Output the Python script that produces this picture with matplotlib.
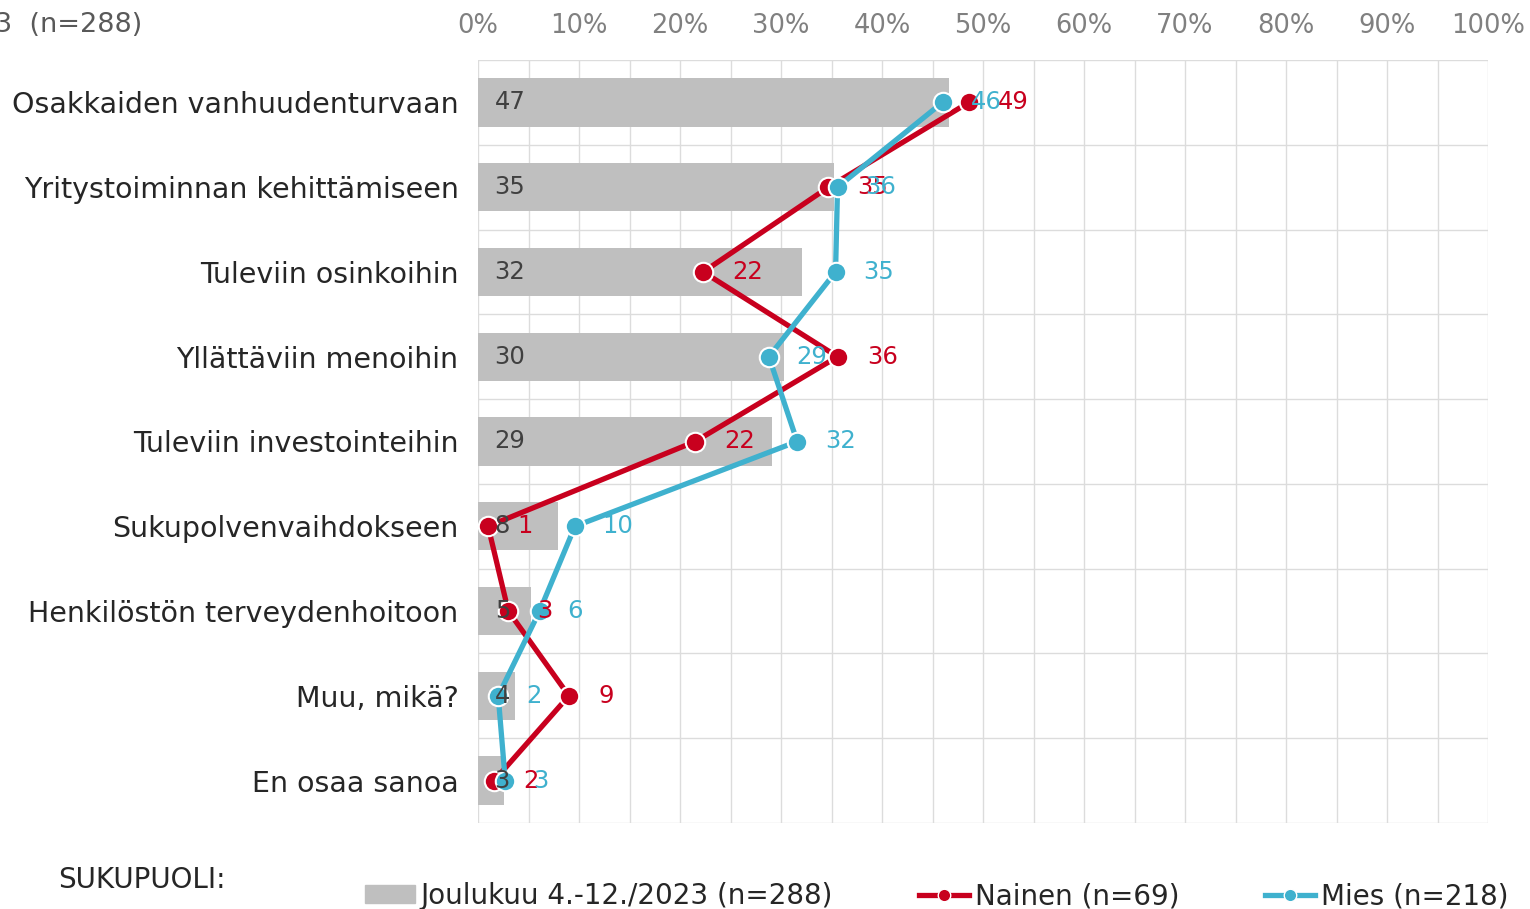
import matplotlib.pyplot as plt
from matplotlib.lines import Line2D
from matplotlib.patches import Patch

plt.rcParams['font.family'] = ['DejaVu Sans']

categories = ['Osakkaiden vanhuudenturvaan', 'Yritystoiminnan kehittämiseen', 'Tuleviin osinkoihin',
              'Yllättäviin menoihin', 'Tuleviin investointeihin', 'Sukupolvenvaihdokseen',
              'Henkilöstön terveydenhoitoon', 'Muu, mikä?', 'En osaa sanoa']
total = [46.6, 35.2, 32.1, 30.3, 29.1, 7.9, 5.2, 3.7, 2.6]
nainen = [48.6, 34.7, 22.3, 35.6, 21.5, 1.0, 3.0, 9.0, 1.6]
mies = [46.0, 35.6, 35.4, 28.8, 31.6, 9.6, 6.1, 2.0, 2.7]
total_label = 'Joulukuu 4.-12./2023 (n=288)'
nainen_label = 'Nainen (n=69)'
mies_label = 'Mies (n=218)'

GRAY = '#BFBFBF'
RED = '#C8001E'
BLUE = '#3FB1CE'

fig = plt.figure(figsize=(15.3, 9.09), dpi=100)
ax = fig.add_axes([478/1530, 1-823/909, 1010/1530, 763/909])

y = list(range(len(categories)))
ax.barh(y, total, height=0.57, color=GRAY, zorder=2)
ax.plot(nainen, y, color=RED, lw=3.8, marker='o', ms=14, mec='white', mew=1.5, zorder=4)
ax.plot(mies, y, color=BLUE, lw=3.8, marker='o', ms=14, mec='white', mew=1.5, zorder=5)

for i in y:
    ax.annotate(f'{total[i]:.0f}', (0, i), xytext=(12, 0), textcoords='offset points',
                ha='left', va='center', fontsize=17.5, color='#404040', zorder=6)
    ax.annotate(f'{nainen[i]:.0f}', (nainen[i], i), xytext=(21, 0), textcoords='offset points',
                ha='left', va='center', fontsize=17.5, color=RED, zorder=6)
    ax.annotate(f'{mies[i]:.0f}', (mies[i], i), xytext=(20, 0), textcoords='offset points',
                ha='left', va='center', fontsize=17.5, color=BLUE, zorder=7)

ax.set_xlim(0, 100)
ax.set_ylim(len(categories) - 0.5, -0.5)
ax.set_xticks(range(0, 101, 10))
ax.set_xticklabels([f'{v}%' for v in range(0, 101, 10)])
ax.set_xticks(range(5, 100, 10), minor=True)
ax.set_yticks(y)
ax.set_yticklabels(categories)
ax.set_yticks([i + 0.5 for i in range(-1, len(categories))], minor=True)
ax.xaxis.tick_top()
ax.tick_params(axis='x', which='both', length=0, labelsize=18.5, labelcolor='#808080', pad=15)
ax.tick_params(axis='y', which='both', length=0, labelsize=20.5, labelcolor='#262626', pad=14)
ax.grid(True, which='both', color='#DCDCDC', lw=1, zorder=0)
ax.grid(False, axis='y', which='major')
for s in ax.spines.values():
    s.set_visible(False)

fig.text(143/1530, 1-25/909, 'Joulukuu 4.-12./2023  (n=288)', ha='right', va='center',
         fontsize=19.5, color='#595959')
fig.text(58/1530, 1-880/909, 'SUKUPUOLI:', ha='left', va='center', fontsize=20, color='#262626')

handles = [Patch(color=GRAY),
           Line2D([], [], color=RED, lw=3.8, marker='o', ms=9, mec='white', mew=1),
           Line2D([], [], color=BLUE, lw=3.8, marker='o', ms=9, mec='white', mew=1)]
fig.legend(handles, [total_label, nainen_label, mies_label], ncol=3, frameon=False,
           loc='center left', bbox_to_anchor=(340/1530, 1-896/909), fontsize=20,
           handlelength=1.8, handleheight=0.6, handletextpad=0.2, columnspacing=3.1,
           labelcolor='#262626')

fig.savefig('out.png', dpi=100)
